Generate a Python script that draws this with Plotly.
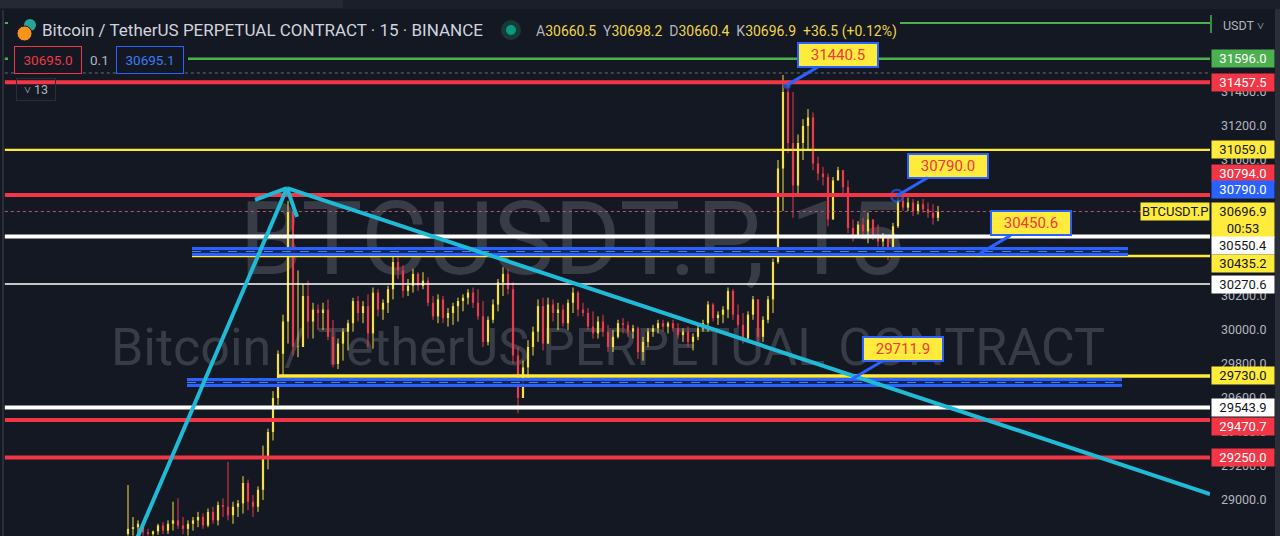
import plotly.graph_objects as go

# ---------------- data ----------------
HIGH = [29088,28900,28880,28850,28830,28820,28860,28870,28880,28990,
        29010,28900,28880,28900,28930,28920,28950,28960,28990,29010,
        29225,28990,29000,29140,29120,29030,29080,29320,29420,29640,
        29880,30090,30760,30690,30350,30270,30290,30160,30150,30160,
        30180,30060,29950,30010,30060,30190,30200,30170,30210,30250,
        30240,30180,30260,30440,30490,30380,30300,30360,30340,30340,
        30310,30200,30210,30200,30130,30160,30190,30210,30240,30250,
        30240,30170,30080,30180,30300,30370,30360,30280,29900,29820,
        29940,30020,30180,30190,30190,30180,30160,30150,30180,30250,
        30230,30160,30130,30110,30080,30090,30030,30000,30060,30070,
        30050,30030,30020,29960,30010,30030,30060,30060,30050,30060,
        30040,30010,30020,29980,30030,30060,30170,30160,30110,30140,
        30250,30240,30150,30100,30110,30200,30160,30080,30200,30420,
        31000,31500,31470,31400,31150,31240,31300,31280,31020,30960,
        30920,30900,30960,30920,30880,30650,30640,30660,30690,30650,
        30620,30570,30550,30630,30780,30800,30780,30770,30760,30770,
        30750,30740,30730]
LOW = [28790,28790,28790,28790,28790,28790,28795,28800,28800,28820,
       28830,28800,28790,28820,28840,28830,28840,28860,28850,28900,
       28880,28860,28900,28920,28940,28900,28930,29000,29180,29350,
       29560,29730,29920,29850,29840,29970,29950,29950,30000,30000,
       29940,29780,29770,29820,29880,29990,30050,30040,29900,29890,
       30080,30060,30100,30180,30300,30190,30200,30220,30230,30240,
       30140,30060,30040,30040,30020,30030,30050,30110,30150,30130,
       30060,29900,29910,30040,30110,30200,30210,29800,29510,29640,
       29700,29850,29930,29880,30000,30050,30000,30020,30000,30100,
       30080,30080,30000,29950,29950,29960,29870,29870,29950,29980,
       29960,29950,29830,29820,29900,29960,29980,29990,29980,29990,
       29950,29930,29900,29880,29940,29990,29990,30050,30030,30040,
       30070,30060,30010,29920,29930,30060,29920,29930,30040,30100,
       30390,30700,31040,30660,30800,31000,31060,30940,30880,30850,
       30610,30760,30880,30800,30570,30520,30570,30540,30510,30530,
       30490,30490,30410,30520,30600,30700,30700,30670,30680,30690,
       30660,30620,30640]
CLOSE = [28830,28840,28860,28810,28800,28815,28850,28820,28860,28880,
         28850,28830,28860,28880,28900,28850,28930,28880,28970,28960,
         28910,28960,28980,29100,28990,28960,29060,29250,29400,29600,
         29860,30050,30700,29900,29900,30200,30050,30120,30100,30120,
         29960,29800,29920,29990,30040,30170,30100,30140,29980,30220,
         30120,30160,30240,30400,30350,30230,30260,30330,30260,30290,
         30160,30080,30180,30070,30100,30140,30170,30190,30220,30160,
         30080,29930,30060,30150,30280,30330,30240,29850,29600,29780,
         29900,29990,30140,29920,30150,30100,30120,30040,30160,30220,
         30120,30100,30020,29980,30050,29990,29900,29960,30040,30030,
         29990,30010,29870,29930,29990,30010,30040,30020,30040,30010,
         29970,29990,29930,29960,30010,30040,30150,30070,30090,30120,
         30230,30090,30030,29950,30090,30180,29960,30060,30180,30400,
         30950,31400,31100,30850,31100,31200,31250,30980,30920,30900,
         30650,30880,30940,30840,30600,30560,30620,30580,30650,30560,
         30520,30550,30470,30610,30760,30720,30750,30700,30740,30710,
         30690,30660,30697]
FIRST_OPEN = 28800

# horizontal levels
LEVEL_PRICES = [31806.0, 31596.0, 31512.0, 31457.5, 31059.0, 30794.0, 30696.9,
                30550.4, 30435.2, 30270.6, 29730.0, 29543.9, 29470.7, 29250.0]
LEVEL_START = [None, None, None, None, None, None, None,
               None, 12.8, None, 29.8, None, None, None]   # bar index where a ray starts

# axis price labels
LABEL_PRICES = [31596.0, 31457.5, 31059.0, 30794.0, 30790.0, 30696.9, 30550.4,
                30435.2, 30270.6, 29730.0, 29543.9, 29470.7, 29250.0, 28785.5]
LABEL_TEXT = ["31596.0", "31457.5", "31059.0", "30794.0", "30790.0", "30696.9<br>00:53",
              "30550.4", "30435.2", "30270.6", "29730.0", "29543.9", "29470.7",
              "29250.0", "28785.5"]

# trend lines (bar index, price)
TREND_UP_X = [0.0, 31.8]
TREND_UP_Y = [28650, 30835]
TREND_DN_X = [31.8, 216.4]
TREND_DN_Y = [30835, 29035]
ARROW_X = [25.4, 31.8, 33.8]
ARROW_Y = [30765, 30835, 30665]

# parallel channels (x from, x to, top, bottom)
CH_X0 = [12.8, 11.8]
CH_X1 = [200.0, 198.8]
CH_TOP = [30479, 29709]
CH_BOT = [30444, 29674]

# callouts
CALLOUT_X = [131.8, 153.8, 170.4, 144.8]
CALLOUT_Y = [31440.5, 30790.0, 30450.6, 29711.9]

OHLC_HDR = [("A", "30660.5"), ("Y", "30698.2"), ("D", "30660.4"), ("K", "30696.9")]
CHANGE_TXT = "+36.5 (+0.12%)"

# ---------------- style / layout ----------------
W, HPX = 1280, 536
PLOT_R = 1210
BG = "#141823"
UP = "#f5e046"
DN = "#ec3b4b"
RED = "#f23645"
YEL = "#ffeb3b"
GRN = "#4caf50"
BLUE = "#2962ff"
CYAN = "#1fbad6"
X0_PX, DX_PX = 128, 5
Y_RANGE = [28788.2, 31941.2]
X_RANGE = [-X0_PX / DX_PX, (PLOT_R - X0_PX) / DX_PX]

def px(xp):
    return xp / W

def py(yp):
    return 1 - yp / HPX

fig = go.Figure()

# watermark (behind candles)
fig.add_trace(go.Scatter(x=[88.8], y=[30478], mode="text", text=["BTCUSDT.P, 15"],
                         textfont=dict(family="Roboto", size=102, color="rgba(130,134,146,0.33)"),
                         hoverinfo="skip", showlegend=False))
fig.add_trace(go.Scatter(x=[96.0], y=[29872], mode="text",
                         text=["Bitcoin / TetherUS PERPETUAL CONTRACT"],
                         textfont=dict(family="Roboto", size=52, color="rgba(130,134,146,0.33)"),
                         hoverinfo="skip", showlegend=False))

# candles
wick = {True: ([], []), False: ([], [])}
body = {True: ([], []), False: ([], [])}
prev = FIRST_OPEN
for i, (h, l, c) in enumerate(zip(HIGH, LOW, CLOSE)):
    o = prev
    up = c >= o
    wick[up][0].extend([i, i, None])
    wick[up][1].extend([min(l, o, c), max(h, o, c), None])
    body[up][0].extend([i, i, None])
    body[up][1].extend([o, c if c != o else c + 3, None])
    prev = c
for up, col in ((True, UP), (False, DN)):
    fig.add_trace(go.Scatter(x=wick[up][0], y=wick[up][1], mode="lines",
                             line=dict(color=col, width=1), hoverinfo="skip", showlegend=False))
    fig.add_trace(go.Scatter(x=body[up][0], y=body[up][1], mode="lines",
                             line=dict(color=col, width=2.2), hoverinfo="skip", showlegend=False))

shapes = []
lvl_style = [
    (GRN, 2, "solid"), (GRN, 2.5, "solid"), ("#6a6d78", 1, "dot"), (RED, 4, "solid"),
    (YEL, 2.2, "solid"), (RED, 4, "solid"), ("#c2566a", 1, "dot"), ("#ffffff", 4, "solid"),
    (YEL, 2.5, "solid"), ("#ffffff", 1.6, "solid"), (YEL, 3.5, "solid"),
    ("#ffffff", 4, "solid"), (RED, 4, "solid"), (RED, 4, "solid"),
]
for p, st, (col, wdt, dash) in zip(LEVEL_PRICES, LEVEL_START, lvl_style):
    if st is None:
        shapes.append(dict(type="line", xref="x domain", yref="y", x0=0.004, x1=1,
                           y0=p, y1=p, line=dict(color=col, width=wdt, dash=dash)))
    else:
        shapes.append(dict(type="line", xref="x", yref="y", x0=st, x1=X_RANGE[1],
                           y0=p, y1=p, line=dict(color=col, width=wdt, dash=dash)))

# channels
for x0, x1, t, b in zip(CH_X0, CH_X1, CH_TOP, CH_BOT):
    shapes.append(dict(type="rect", xref="x", yref="y", x0=x0, x1=x1, y0=b, y1=t,
                       fillcolor="rgba(20,40,90,0.9)", line=dict(width=0)))
    for yy in (t, b):
        shapes.append(dict(type="line", xref="x", yref="y", x0=x0, x1=x1, y0=yy, y1=yy,
                           line=dict(color=BLUE, width=3)))
    m = (t + b) / 2
    shapes.append(dict(type="line", xref="x", yref="y", x0=x0, x1=x1, y0=m, y1=m,
                       line=dict(color="#4a8cf0", width=1, dash="dash")))

# trend lines
shapes.append(dict(type="line", xref="x", yref="y", x0=TREND_UP_X[0], y0=TREND_UP_Y[0],
                   x1=TREND_UP_X[1], y1=TREND_UP_Y[1], line=dict(color=CYAN, width=4)))
shapes.append(dict(type="line", xref="x", yref="y", x0=TREND_DN_X[0], y0=TREND_DN_Y[0],
                   x1=TREND_DN_X[1], y1=TREND_DN_Y[1], line=dict(color=CYAN, width=4)))
for k in (0, 2):
    shapes.append(dict(type="line", xref="x", yref="y", x0=ARROW_X[k], y0=ARROW_Y[k],
                       x1=ARROW_X[1], y1=ARROW_Y[1], line=dict(color=CYAN, width=4)))

# UI chrome
shapes += [
    dict(type="rect", xref="paper", yref="paper", x0=0, x1=1, y0=py(9), y1=1,
         fillcolor="#1b1f2a", line=dict(width=0)),
    dict(type="rect", xref="paper", yref="paper", x0=0, x1=px(343), y0=py(8), y1=1,
         fillcolor="#252934", line=dict(width=0)),
    dict(type="rect", xref="paper", yref="paper", x0=px(8), x1=px(900), y0=py(44), y1=py(12),
         fillcolor=BG, line=dict(width=0)),
    dict(type="rect", xref="paper", yref="paper", x0=px(8), x1=px(188), y0=py(72), y1=py(45),
         fillcolor=BG, line=dict(width=0)),
    dict(type="line", xref="paper", yref="paper", x0=px(3), x1=px(3), y0=0, y1=py(10),
         line=dict(color="#2a2e39", width=2)),
    dict(type="rect", xref="paper", yref="paper", x0=px(1275), x1=1, y0=0, y1=py(9),
         fillcolor="#2a2e39", line=dict(width=0)),
    dict(type="line", xref="paper", yref="paper", x0=px(PLOT_R + 1), x1=px(PLOT_R + 1),
         y0=py(33), y1=py(15), line=dict(color=GRN, width=1.5)),
    # bitcoin icon
    dict(type="circle", xref="paper", yref="paper", x0=px(24), x1=px(36), y0=py(31), y1=py(19),
         fillcolor="#26a69a", line=dict(width=0)),
    dict(type="circle", xref="paper", yref="paper", x0=px(17), x1=px(32), y0=py(41), y1=py(26),
         fillcolor="#f7931a", line=dict(width=1, color=BG)),
    # status dot
    dict(type="circle", xref="paper", yref="paper", x0=px(501), x1=px(521), y0=py(40), y1=py(20),
         fillcolor="#173a36", line=dict(width=0)),
    dict(type="circle", xref="paper", yref="paper", x0=px(506), x1=px(516), y0=py(35), y1=py(25),
         fillcolor="#089981", line=dict(width=0)),
]

annotations = []
# header
annotations.append(dict(xref="paper", yref="paper", x=px(40), y=py(30), xanchor="left",
                        yanchor="middle", showarrow=False,
                        text="Bitcoin / TetherUS PERPETUAL CONTRACT · 15 · BINANCE",
                        font=dict(family="Roboto", size=17, color="#d1d4dc")))
hdr = "  ".join(f"<span style='color:#b2b5be'>{a}</span>{v}" for a, v in OHLC_HDR)
hdr += "  " + CHANGE_TXT
annotations.append(dict(xref="paper", yref="paper", x=px(534), y=py(31), xanchor="left",
                        yanchor="middle", showarrow=False, text=hdr,
                        font=dict(family="Roboto", size=14, color="#f0d64a")))
annotations.append(dict(xref="paper", yref="paper", x=px(1221), y=py(25), xanchor="left",
                        yanchor="middle", showarrow=False, text="USDT ˅", bgcolor=BG,
                        width=50, align="left",
                        font=dict(family="Roboto", size=12.5, color="#b2b5be")))
# buy/sell boxes
annotations.append(dict(xref="paper", yref="paper", x=px(48), y=py(60), xanchor="center",
                        yanchor="middle", showarrow=False,
                        text="30695.0", bordercolor=RED, borderwidth=1, borderpad=5, bgcolor=BG,
                        width=56, font=dict(family="Roboto", size=13.5, color=RED)))
annotations.append(dict(xref="paper", yref="paper", x=px(99), y=py(60), xanchor="center",
                        yanchor="middle", showarrow=False,
                        text="0.1", font=dict(family="Roboto", size=13.5, color="#b2b5be")))
annotations.append(dict(xref="paper", yref="paper", x=px(150), y=py(60), xanchor="center",
                        yanchor="middle", showarrow=False,
                        text="30695.1", bordercolor=BLUE, borderwidth=1, borderpad=5, bgcolor=BG,
                        width=56, font=dict(family="Roboto", size=13.5, color="#3d7bf7")))
annotations.append(dict(xref="paper", yref="paper", x=px(36), y=py(90), xanchor="center",
                        yanchor="middle", showarrow=False,
                        text="˅ 13", bordercolor="#2a2e39", borderwidth=1, borderpad=3,
                        width=32, font=dict(family="Roboto", size=12.5, color="#b2b5be")))

# axis price labels
lab_style = [
    (GRN, "#ffffff", 0), (RED, "#ffffff", 0), (YEL, "#131722", 0), (RED, "#ffffff", 22),
    (BLUE, "#ffffff", 6), (YEL, "#131722", -8), ("#ffffff", "#131722", -9),
    (YEL, "#131722", -7), ("#ffffff", "#131722", 0), (YEL, "#131722", 0),
    ("#ffffff", "#131722", 0), (RED, "#ffffff", -7), (RED, "#ffffff", 0), (YEL, "#131722", 4),
]
for p, t, (bg, fc, sh) in zip(LABEL_PRICES, LABEL_TEXT, lab_style):
    annotations.append(dict(xref="paper", yref="y", x=px(PLOT_R + 1), y=p, yshift=sh,
                            xanchor="left", yanchor="middle", showarrow=False, text=t,
                            bgcolor=bg, borderpad=1, width=60, align="center",
                            font=dict(family="Roboto", size=13, color=fc)))
annotations.append(dict(xref="paper", yref="y", x=px(PLOT_R), y=CLOSE[-1], xanchor="right",
                        yanchor="middle", showarrow=False, text="BTCUSDT.P", bgcolor=YEL,
                        borderpad=1, font=dict(family="Roboto", size=13, color="#131722")))

# callouts
for cx, cy in zip(CALLOUT_X, CALLOUT_Y):
    annotations.append(dict(xref="x", yref="y", x=cx, y=cy, ax=51, ay=-30, showarrow=True,
                            arrowhead=0, arrowwidth=3, arrowcolor=BLUE, standoff=0,
                            text=f"{cy:.1f}", bgcolor=YEL, bordercolor=BLUE, borderwidth=2,
                            borderpad=2, width=74,
                            font=dict(family="Roboto", size=15, color=RED)))

fig.add_trace(go.Scatter(x=CALLOUT_X, y=CALLOUT_Y, mode="markers",
                         marker=dict(size=[8, 12, 8, 8], color=[BLUE, "#1a2a50", BLUE, BLUE],
                                     line=dict(color=["#1a3a8a", BLUE, "#1a3a8a", "#1a3a8a"],
                                               width=[1, 2, 1, 1])),
                         hoverinfo="skip", showlegend=False))

fig.update_layout(
    width=W, height=HPX, margin=dict(l=0, r=0, t=0, b=0),
    paper_bgcolor=BG, plot_bgcolor=BG, showlegend=False,
    shapes=shapes, annotations=annotations,
    xaxis=dict(domain=[0, PLOT_R / W], range=X_RANGE, visible=False, fixedrange=True),
    yaxis=dict(range=Y_RANGE, side="right", showgrid=False, zeroline=False, dtick=200,
               tick0=0, tickformat=".1f", ticks="", ticklabelstandoff=10,
               tickfont=dict(family="Roboto", size=12.5, color="#b2b5be"), fixedrange=True),
)

fig.write_html("out.html", config={"displayModeBar": False},
               post_script="document.body.style.margin='0';document.body.style.overflow='hidden';")
